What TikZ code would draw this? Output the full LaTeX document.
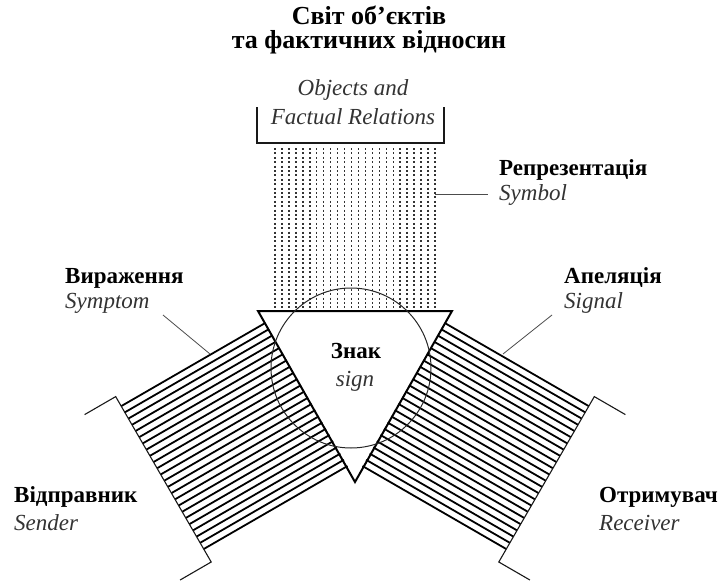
\documentclass[tikz,border=0pt]{standalone}
\usepackage{fontspec}
\setmainfont{Liberation Serif}
\usetikzlibrary{calc}
\tikzset{
  titlelbl/.style={font=\bfseries\fontsize{26}{30}\selectfont, inner sep=0pt, text=black},
  boldlbl/.style={font=\bfseries\fontsize{23}{27}\selectfont, inner sep=0pt, text=black},
  itlbl/.style={font=\itshape\fontsize{23}{27}\selectfont, inner sep=0pt, text=black!80},
  hatchline/.style={line width=1.8pt, black},
  bracketline/.style={line width=1.1pt, black!90},
  leader/.style={line width=0.8pt, black!70},
  dotcol/.style={line width=1.5pt, black!80, dash pattern=on 1.9pt off 2.5pt},
  trianglestyle/.style={line width=2pt, black, line join=miter},
  circlestyle/.style={circle, draw, line width=1pt, black!85, minimum size=160pt, inner sep=0pt}
}
\begin{document}
\begin{tikzpicture}[x=1pt,y=-1pt]
\useasboundingbox (0,0) rectangle (724,581);

% Title
\node[titlelbl] (title1) at (369,15) {Світ об’єктів};
\node[titlelbl] (title2) at (369,42) {та фактичних відносин};

% Objects bracket
\node[itlbl] (obj1) at (353,90) {Objects and};
\node[itlbl] (obj2) at (353,117) {Factual Relations};
\draw[bracketline] (257,107) -- (257,143) -- (444,143) -- (444,107);

% dotted field
\foreach \i in {0,...,23} {
  \draw[dotcol] ({275+\i*160/23},148) -- ({275+\i*160/23},311);
}

\coordinate (A) at (258,311);
\coordinate (B) at (452,311);
\coordinate (C) at (355,482);

% left band (sender)
\foreach \i in {0,...,23} {
  \pgfmathsetmacro\u{14+\i*165/23}
  \draw[hatchline] ($(A)+({0.5*\u},{0.866*\u})$) -- ($(A)+({0.5*\u-0.866*166},{0.866*\u+0.5*166})$);
}
\draw[bracketline] ($(A)+(-173.4,103.6)$) -- ($(A)+(-142.3,85.6)$) -- ($(A)+(-46.8,251)$) -- ($(A)+(-77.9,269)$);

% right band (receiver)
\foreach \i in {0,...,23} {
  \pgfmathsetmacro\u{14+\i*165/23}
  \draw[hatchline] ($(B)+({-0.5*\u},{0.866*\u})$) -- ($(B)+({-0.5*\u+0.866*166},{0.866*\u+0.5*166})$);
}
\draw[bracketline] ($(B)+(173.4,103.6)$) -- ($(B)+(142.3,85.6)$) -- ($(B)+(46.8,251)$) -- ($(B)+(77.9,269)$);

% triangle and circle
\draw[trianglestyle] (A) -- (B) -- (C) -- cycle;
\node[circlestyle] (sign) at (351,368) {};
\node[boldlbl] (znak) at (356,351) {Знак};
\node[itlbl] (signtxt) at (355,381) {sign};

% labels
\node[boldlbl, anchor=west] (repr) at (499,170) {Репрезентація};
\node[itlbl, anchor=west] (symbol) at (499,195) {Symbol};
\node[boldlbl, anchor=west] (expr) at (65,278) {Вираження};
\node[itlbl, anchor=west] (symptom) at (65,303) {Symptom};
\node[boldlbl, anchor=west] (appeal) at (564,278) {Апеляція};
\node[itlbl, anchor=west] (signal) at (564,303) {Signal};
\node[boldlbl, anchor=west] (sender) at (14,497) {Відправник};
\node[itlbl, anchor=west] (sendertxt) at (14,523) {Sender};
\node[boldlbl, anchor=west] (receiver) at (599,497) {Отримувач};
\node[itlbl, anchor=west] (receivertxt) at (599,523) {Receiver};

% leaders
\coordinate (symL0) at (435,194);
\coordinate (symL1) at (488,194);
\draw[leader] (symL0) -- (symL1);
\coordinate (sptL0) at (163,315);
\coordinate (sptL1) at (210,354);
\draw[leader] (sptL0) -- (sptL1);
\coordinate (sgnL0) at (552,315);
\coordinate (sgnL1) at (503,354);
\draw[leader] (sgnL0) -- (sgnL1);
\end{tikzpicture}
\end{document}
